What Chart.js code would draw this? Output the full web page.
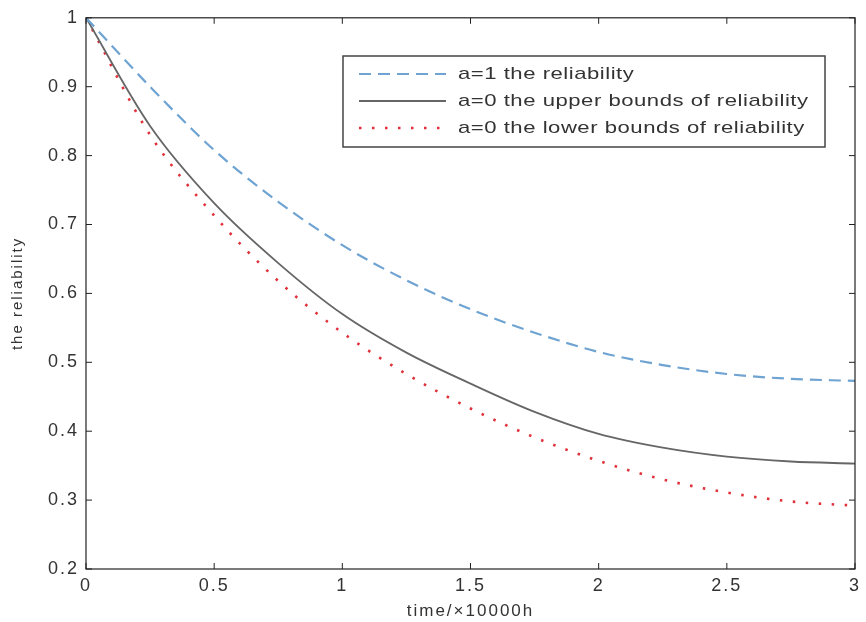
<!DOCTYPE html>
<html>
<head>
<meta charset="utf-8">
<script src="https://cdn.jsdelivr.net/npm/chart.js@4/dist/chart.umd.min.js"></script>
<style>
html,body{margin:0;padding:0;background:#fff;}
#wrap{width:866px;height:622px;}
</style>
</head>
<body>
<div id="wrap"><canvas id="c" width="866" height="622"></canvas></div>
<script>
const timeValues = [0, 0.25, 0.5, 0.75, 1.0, 1.25, 1.5, 1.75, 2.0, 2.25, 2.5, 2.75, 3.0];
const reliabilityA1 = [1.0, 0.900, 0.808, 0.733, 0.670, 0.619, 0.577, 0.543, 0.515, 0.496, 0.483, 0.476, 0.473];
const upperBoundA0 = [1.0, 0.843, 0.731, 0.644, 0.570, 0.514, 0.469, 0.428, 0.396, 0.376, 0.363, 0.356, 0.353];
const lowerBoundA0 = [1.0, 0.830, 0.713, 0.618, 0.543, 0.483, 0.433, 0.391, 0.357, 0.330, 0.311, 0.298, 0.292];
const seriesLabels = ["a=1 the reliability", "a=0 the upper bounds of reliability", "a=0 the lower bounds of reliability"];
const xTickValues = [0, 0.5, 1, 1.5, 2, 2.5, 3];
const yTickValues = [0.2, 0.3, 0.4, 0.5, 0.6, 0.7, 0.8, 0.9, 1];

const toPts = arr => timeValues.map((t, i) => ({x: t, y: arr[i]}));

const FONT = "'Liberation Sans', Arial, sans-serif";

const spacingPlugin = {
  id: 'spacing',
  beforeDraw(chart) { chart.ctx.letterSpacing = '2px'; }
};

const framePlugin = {
  id: 'frame',
  afterDraw(chart) {
    const ctx = chart.ctx, a = chart.chartArea;
    const xs = chart.scales.x, ys = chart.scales.y;
    ctx.save();
    ctx.strokeStyle = '#222';
    ctx.lineWidth = 1.2;
    ctx.setLineDash([]);
    ctx.strokeRect(a.left, a.top, a.right - a.left, a.bottom - a.top);
    ctx.lineWidth = 1;
    const L = 6;
    xTickValues.forEach(v => {
      const px = xs.getPixelForValue(v);
      ctx.beginPath();
      ctx.moveTo(px, a.bottom); ctx.lineTo(px, a.bottom - L);
      ctx.moveTo(px, a.top); ctx.lineTo(px, a.top + L);
      ctx.stroke();
    });
    yTickValues.forEach(v => {
      const py = ys.getPixelForValue(v);
      ctx.beginPath();
      ctx.moveTo(a.left, py); ctx.lineTo(a.left + L, py);
      ctx.moveTo(a.right, py); ctx.lineTo(a.right - L, py);
      ctx.stroke();
    });
    ctx.restore();
  }
};

const legendPlugin = {
  id: 'boxLegend',
  afterDatasetsDraw(chart) {
    const ctx = chart.ctx;
    const box = {x: 343, y: 56, w: 482, h: 91};
    ctx.save();
    ctx.fillStyle = '#fff';
    ctx.fillRect(box.x, box.y, box.w, box.h);
    ctx.strokeStyle = '#444';
    ctx.lineWidth = 1.5;
    ctx.strokeRect(box.x, box.y, box.w, box.h);
    const rows = [74, 101, 128];
    chart.data.datasets.forEach((ds, i) => {
      const y = rows[i];
      ctx.beginPath();
      ctx.strokeStyle = ds.borderColor;
      ctx.lineWidth = ds.borderWidth;
      ctx.lineCap = 'butt';
      ctx.setLineDash(ds.borderDash || []);
      ctx.moveTo(359, y); ctx.lineTo(446, y);
      ctx.stroke();
      ctx.setLineDash([]);
      ctx.save();
      ctx.translate(458, y);
      ctx.scale(1.3, 1);
      ctx.fillStyle = '#333';
      ctx.font = '17px ' + FONT;
      ctx.letterSpacing = '0.4px';
      ctx.textBaseline = 'middle';
      ctx.textAlign = 'left';
      ctx.fillText(ds.label, 0, 0);
      ctx.restore();
    });
    ctx.restore();
  }
};

new Chart(document.getElementById('c'), {
  type: 'line',
  data: {
    datasets: [
      {label: seriesLabels[0], data: toPts(reliabilityA1), borderColor: '#6fa3d2', borderWidth: 2.2, borderDash: [12, 7], pointRadius: 0, cubicInterpolationMode: 'monotone', fill: false},
      {label: seriesLabels[1], data: toPts(upperBoundA0), borderColor: '#666666', borderWidth: 1.8, borderDash: [], pointRadius: 0, cubicInterpolationMode: 'monotone', fill: false},
      {label: seriesLabels[2], data: toPts(lowerBoundA0), borderColor: '#e0303a', borderWidth: 2.6, borderDash: [2.5, 10.5], pointRadius: 0, cubicInterpolationMode: 'monotone', fill: false}
    ]
  },
  options: {
    responsive: false,
    animation: false,
    layout: {padding: {left: 0, top: 10, right: 0, bottom: 0}},
    plugins: {legend: {display: false}, tooltip: {enabled: false}},
    scales: {
      x: {
        type: 'linear', min: 0, max: 3,
        afterBuildTicks: s => { s.ticks = xTickValues.map(v => ({value: v})); },
        afterFit: s => { s.height = 53; },
        grid: {display: false, drawTicks: false},
        border: {display: false},
        ticks: {padding: 6, color: '#333', font: {family: FONT, size: 18}, callback: v => String(v), maxRotation: 0, autoSkip: false},
        title: {display: true, text: 'time/×10000h', color: '#333', font: {family: FONT, size: 17}, padding: {top: 0, bottom: 0}}
      },
      y: {
        type: 'linear', min: 0.2, max: 1,
        afterBuildTicks: s => { s.ticks = yTickValues.map(v => ({value: v})); },
        afterFit: s => { s.width = 86; },
        grid: {display: false, drawTicks: false},
        border: {display: false},
        ticks: {padding: 7, color: '#333', font: {family: FONT, size: 18}, callback: v => String(v), autoSkip: false},
        title: {display: true, text: 'the reliability', color: '#333', font: {family: FONT, size: 15}, padding: {top: 9, bottom: 0}}
      }
    }
  },
  plugins: [spacingPlugin, framePlugin, legendPlugin]
});
</script>
</body>
</html>
